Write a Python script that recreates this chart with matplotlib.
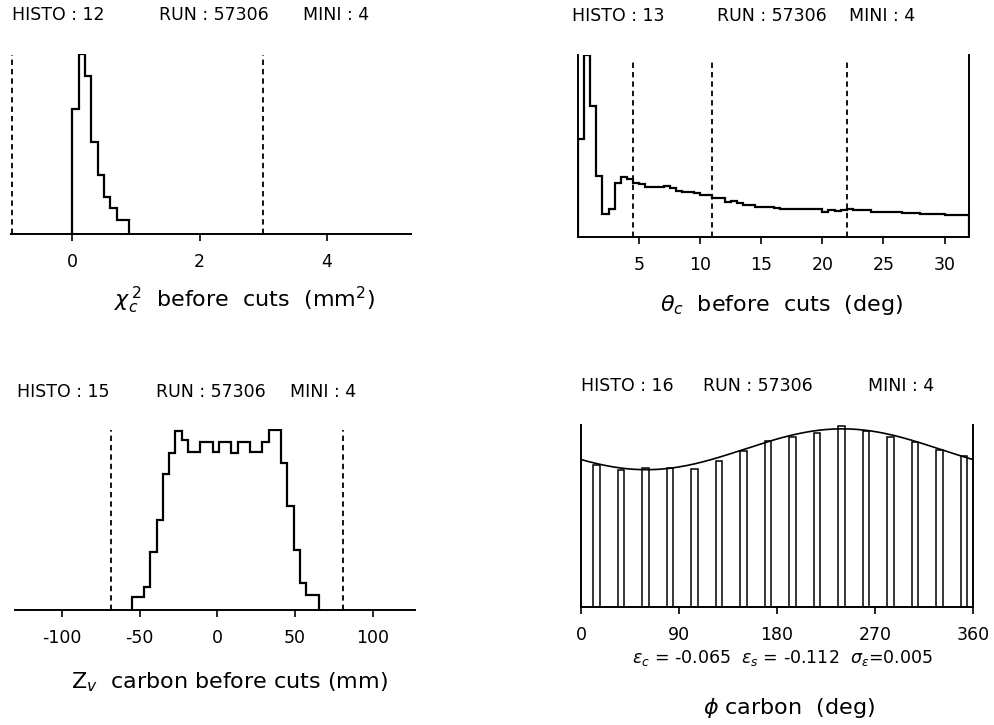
import numpy as np
import matplotlib.pyplot as plt

plt.rcParams['font.family'] = ['DejaVu Sans']
plt.rcParams['mathtext.fontset'] = 'dejavusans'

W, H = 994, 725

# HISTO 12 : chi2 of the carbon track before cuts (bins of 0.1 mm^2)
chi2_edges = np.linspace(0.0, 0.9, 10)
chi2_counts = [125, 180, 158, 92, 59, 37, 26, 14, 14]
chi2_cuts = [-0.95, 3.0]

# HISTO 13 : theta_c before cuts (bins of 0.5 deg)
theta_edges = np.linspace(0.0, 32.0, 65)
theta_counts = [97, 181, 130, 61, 23, 28, 54, 60, 58, 54,
                53, 50, 50, 50, 51, 49, 46, 44.5, 44.5, 44,
                42, 42, 39, 39, 34.5, 35.5, 33.5, 32, 32, 29.5,
                29.5, 29.5, 28.5, 27.5, 27.5, 27.7, 27.7, 27.7, 27.7, 27.7,
                25, 27.3, 26, 26.7, 27.5, 26.7, 26.7, 26.7, 25.3, 25.3,
                25, 25, 25, 24, 23.7, 23.7, 23.3, 23.3, 23.3, 23.3,
                22, 22.3, 22.3, 22.3]
theta_cuts = [4.5, 11.0, 22.0]

# HISTO 15 : Z vertex in carbon before cuts (bins of 4 mm)
zv_edges = np.linspace(-55.0, 65.0, 31)
zv_counts = [13, 13, 23, 58, 90, 136, 157, 179, 170, 158,
             158, 168, 168, 158, 168, 168, 157, 168, 168, 158,
             158, 168, 180, 180, 147, 104, 60, 27, 15, 15]
zv_cuts = [-68.0, 81.0]

# HISTO 16 : phi carbon (16 bins of 22.5 deg) and the fit
phi_edges = np.linspace(0.0, 360.0, 17)
phi_counts = [143, 138, 140, 140, 139, 147, 157, 167,
              171, 175, 182, 177, 171, 166, 158, 152]
eps_c = -0.065
eps_s = -0.112
sigma_eps = 0.005
fit_norm = 158.6

headers = [
    [("HISTO : 12", 12, 15), ("RUN : 57306", 159, 15), ("MINI : 4", 303, 15)],
    [("HISTO : 13", 572, 16), ("RUN : 57306", 717, 16), ("MINI : 4", 849, 16)],
    [("HISTO : 15", 17, 392), ("RUN : 57306", 156, 392), ("MINI : 4", 290, 392)],
    [("HISTO : 16", 581, 386), ("RUN : 57306", 703, 386), ("MINI : 4", 868, 386)],
]


def px_axes(fig, x0, x1, ytop, ybot):
    return fig.add_axes([x0 / W, 1 - ybot / H, (x1 - x0) / W, (ybot - ytop) / H])


def style(ax, side_spines=False):
    ax.spines['top'].set_visible(False)
    ax.spines['left'].set_visible(side_spines)
    ax.spines['right'].set_visible(side_spines)
    for s in ('bottom', 'left', 'right'):
        ax.spines[s].set_linewidth(1.4)
    ax.set_yticks([])
    ax.tick_params(axis='x', direction='out', length=5, width=1.2,
                   labelsize=12.5, pad=9)


def cut_lines(ax, cuts, top):
    for c in cuts:
        ax.plot([c, c], [0, top], color='black', lw=1.3,
                ls=(0, (3, 2.2)), clip_on=False)


fig = plt.figure(figsize=(W / 100, H / 100), dpi=100)

# panel 1
ax1 = px_axes(fig, 11, 411, 54, 234)
ax1.stairs(chi2_counts, chi2_edges, baseline=0, color='black', lw=1.6)
cut_lines(ax1, chi2_cuts, 179)
ax1.set_xlim(-0.96, 5.32)
ax1.set_ylim(0, 180)
ax1.set_xticks([0, 2, 4])
ax1.set_xticklabels(['0', '2', '4'])
style(ax1)

# panel 2
ax2 = px_axes(fig, 578, 969, 55, 237)
ax2.stairs(theta_counts, theta_edges, baseline=0, color='black', lw=1.6)
cut_lines(ax2, theta_cuts, 177)
ax2.set_xlim(0, 32)
ax2.set_ylim(0, 181)
ax2.set_xticks([5, 10, 15, 20, 25, 30])
ax2.set_xticklabels(['5', '10', '15', '20', '25', '30'])
style(ax2, side_spines=True)

# panel 3
ax3 = px_axes(fig, 15, 415, 429, 610)
ax3.stairs(zv_counts, zv_edges, baseline=0, color='black', lw=1.6)
cut_lines(ax3, zv_cuts, 180)
ax3.set_xlim(-130, 127)
ax3.set_ylim(0, 181)
ax3.set_xticks([-100, -50, 0, 50, 100])
ax3.set_xticklabels(['-100', '-50', '0', '50', '100'])
style(ax3)

# panel 4
ax4 = px_axes(fig, 581, 973, 425, 607)
centers = (phi_edges[:-1] + phi_edges[1:]) / 2
ax4.bar(centers, phi_counts, width=6.0, align='edge', fill=False,
        edgecolor='black', lw=1.1)
phi = np.linspace(0, 360, 361)
fit = fit_norm * (1 + eps_c * np.cos(np.radians(phi)) + eps_s * np.sin(np.radians(phi)))
ax4.plot(phi, fit, color='black', lw=1.2)
ax4.set_xlim(0, 360)
ax4.set_ylim(0, 183)
ax4.set_xticks([0, 90, 180, 270, 360])
ax4.set_xticklabels(['0', '90', '180', '270', '360'])
style(ax4, side_spines=True)

for row in headers:
    for txt, x, y in row:
        fig.text(x / W, 1 - y / H, txt, fontsize=12.5, ha='left', va='center')

lab = dict(fontsize=16, ha='center', va='center')
fig.text(244 / W, 1 - 300 / H, r'$\chi_{c}^{\,2}$  before  cuts  (mm$^{2}$)', **lab)
fig.text(782 / W, 1 - 305 / H, r'$\theta_{c}$  before  cuts  (deg)', **lab)
fig.text(229 / W, 1 - 682 / H, r'$\mathrm{Z}_{v}$  carbon before cuts (mm)', **lab)
fig.text(782 / W, 1 - 658 / H,
         r'$\epsilon_{c}$ = %.3f  $\epsilon_{s}$ = %.3f  $\sigma_{\epsilon}$=%.3f'
         % (eps_c, eps_s, sigma_eps),
         fontsize=12.5, ha='center', va='center')
fig.text(789 / W, 1 - 708 / H, r'$\phi$ carbon  (deg)', **lab)

fig.savefig('out.png', dpi=100)
